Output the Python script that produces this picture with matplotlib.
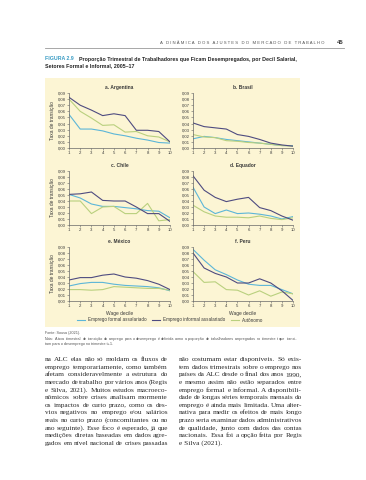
import matplotlib
matplotlib.use("Agg")
import matplotlib.pyplot as plt
from matplotlib.patches import Rectangle
from matplotlib.lines import Line2D

W, H = 366, 480
BEIGE = "#fcf5d4"
C_FORMAL, C_INFORMAL, C_AUTO = "#5cb6d8", "#4e4b80", "#b9d07e"
TXT = "#3a3a3a"

# ---- data: quarterly employment->unemployment transition rate by wage decile ----
deciles = [1, 2, 3, 4, 5, 6, 7, 8, 9, 10]
yticks = [0.00, 0.01, 0.02, 0.03, 0.04, 0.05, 0.06, 0.07, 0.08, 0.09]
titles = ["a. Argentina", "b. Brasil", "c. Chile", "d. Equador", "e. México", "f. Peru"]

arg_formal   = [0.055, 0.031, 0.031, 0.028, 0.023, 0.020, 0.016, 0.013, 0.009, 0.008]
arg_informal = [0.083, 0.070, 0.062, 0.053, 0.056, 0.053, 0.029, 0.029, 0.027, 0.010]
arg_auto     = [0.080, 0.060, 0.049, 0.037, 0.038, 0.026, 0.027, 0.020, 0.018, 0.010]

bra_formal   = [0.015, 0.019, 0.017, 0.014, 0.012, 0.010, 0.008, 0.006, 0.004, 0.004]
bra_informal = [0.041, 0.035, 0.033, 0.031, 0.022, 0.019, 0.014, 0.008, 0.005, 0.003]
bra_auto     = [0.022, 0.018, 0.017, 0.012, 0.011, 0.009, 0.008, 0.006, 0.004, 0.003]

chi_formal   = [0.051, 0.045, 0.035, 0.031, 0.031, 0.029, 0.027, 0.024, 0.023, 0.012]
chi_informal = [0.051, 0.052, 0.055, 0.041, 0.040, 0.040, 0.030, 0.019, 0.019, 0.006]
chi_auto     = [0.040, 0.040, 0.019, 0.030, 0.031, 0.019, 0.019, 0.036, 0.007, 0.009]

ecu_formal   = [0.063, 0.030, 0.019, 0.025, 0.019, 0.020, 0.018, 0.015, 0.010, 0.014]
ecu_informal = [0.082, 0.058, 0.046, 0.039, 0.043, 0.046, 0.029, 0.024, 0.015, 0.008]
ecu_auto     = [0.033, 0.022, 0.015, 0.013, 0.013, 0.012, 0.015, 0.011, 0.009, 0.012]

mex_formal   = [0.025, 0.029, 0.031, 0.031, 0.028, 0.026, 0.025, 0.024, 0.022, 0.017]
mex_informal = [0.035, 0.039, 0.039, 0.043, 0.045, 0.040, 0.038, 0.034, 0.028, 0.019]
mex_auto     = [0.019, 0.019, 0.018, 0.019, 0.024, 0.023, 0.022, 0.021, 0.021, 0.018]

per_formal   = [0.086, 0.068, 0.052, 0.044, 0.035, 0.028, 0.026, 0.026, 0.019, 0.012]
per_informal = [0.080, 0.055, 0.046, 0.040, 0.030, 0.030, 0.037, 0.030, 0.017, 0.001]
per_auto     = [0.049, 0.031, 0.032, 0.019, 0.018, 0.010, 0.017, 0.008, 0.015, 0.012]

panels = [
    (arg_formal, arg_informal, arg_auto),
    (bra_formal, bra_informal, bra_auto),
    (chi_formal, chi_informal, chi_auto),
    (ecu_formal, ecu_informal, ecu_auto),
    (mex_formal, mex_informal, mex_auto),
    (per_formal, per_informal, per_auto),
]
series_labels = ["Emprego formal assalariado", "Emprego informal assalariado", "Autônomo"]

left_lines = [
    "na ALC elas não só moldam os fluxos de",
    "emprego temporariamente, como também",
    "afetam consideravelmente a estrutura do",
    "mercado de trabalho por vários anos (Regis",
    "e Silva, 2021). Muitos estudos macroeco-",
    "nômicos sobre crises analisam mormente",
    "os impactos de curto prazo, como os des-",
    "vios negativos no emprego e/ou salários",
    "reais no curto prazo (concomitantes ou no",
    "ano seguinte). Esse foco é esperado, já que",
    "medições diretas baseadas em dados agre-",
    "gados em nível nacional de crises passadas",
]
right_lines = [
    "não costumam estar disponíveis. Só exis-",
    "tem dados trimestrais sobre o emprego nos",
    "países da ALC desde o final dos anos 1990,",
    "e mesmo assim não estão separados entre",
    "emprego formal e informal. A disponibili-",
    "dade de longas séries temporais mensais do",
    "emprego é ainda mais limitada. Uma alter-",
    "nativa para medir os efeitos de mais longo",
    "prazo seria examinar dados administrativos",
    "de qualidade, junto com dados das contas",
    "nacionais. Essa foi a opção feita por Regis",
    "e Silva (2021).",
]
note_lines = [
    "Nota: A taxa trimestral de transição do emprego para o desemprego é definida como a proporção de trabalhadores empregados no trimestre t que transi-",
    "tam para o desemprego no trimestre t+1.",
]

plt.rcParams["font.family"] = ["Liberation Sans", "DejaVu Sans"]
fig = plt.figure(figsize=(W / 100, H / 100), dpi=100)
fig.patch.set_facecolor("white")


def fx(x):
    return x / W


def fy(y):
    return 1 - y / H


def px_axes(x0, y0, x1, y1):
    return fig.add_axes([fx(x0), fy(y1), (x1 - x0) / W, (y1 - y0) / H])


# beige figure box (behind the axes)
fig.patches.append(Rectangle((fx(45), fy(327)), (300 - 45) / W, (327 - 78) / H,
                             transform=fig.transFigure, facecolor=BEIGE,
                             edgecolor="none", zorder=-5))

# header
fig.text(fx(325), fy(44), "   ".join(" ".join(w) for w in
         "A DINÂMICA DOS AJUSTES DO MERCADO DE TRABALHO".split()),
         ha="right", va="baseline", fontsize=3.1, color="#555555")
fig.text(fx(340), fy(44), "45", ha="center", va="baseline", fontsize=4.3,
         fontweight="bold", color="#333333")
fig.add_artist(Line2D([fx(45), fx(344)], [fy(47.5), fy(47.5)], color="#999999", lw=0.6))

# caption
fig.text(fx(45), fy(60.5), "FIGURA 2.9", ha="left", va="baseline", fontsize=3.8,
         color="#3a9cc4", fontweight="bold")
fig.text(fx(79), fy(60.5), "Proporção Trimestral de Trabalhadores que Ficam Desempregados, por Decil Salarial,",
         ha="left", va="baseline", fontsize=3.8, color="#222222", fontweight="bold")
fig.text(fx(45), fy(67), "Setores Formal e Informal, 2005–17", ha="left", va="baseline",
         fontsize=3.8, color="#222222", fontweight="bold")

cols = [(69, 170), (193, 293)]
rows = [(93, 148), (171, 225), (247, 301)]

for i, (vals, title) in enumerate(zip(panels, titles)):
    r, c = divmod(i, 2)
    x0, x1 = cols[c]
    y0, y1 = rows[r]
    ax = px_axes(x0, y0, x1, y1)
    ax.set_facecolor("none")
    formal, informal, auto = vals
    ax.plot(deciles, formal, color=C_FORMAL, lw=0.8)
    ax.plot(deciles, auto, color=C_AUTO, lw=0.8)
    ax.plot(deciles, informal, color=C_INFORMAL, lw=0.8)
    ax.set_xlim(1, 10)
    ax.set_ylim(0, 0.09)
    ax.set_xticks(deciles)
    ax.set_yticks(yticks)
    ax.set_yticklabels([f"{v:.2f}".replace(".", ",") for v in yticks])
    for s in ("top", "right"):
        ax.spines[s].set_visible(False)
    for s in ("left", "bottom"):
        ax.spines[s].set_linewidth(0.5)
        ax.spines[s].set_color("#666666")
    ax.tick_params(labelsize=3.1, length=1.5, width=0.4, pad=1, colors="#666666",
                   labelcolor=TXT)
    ax.set_title(title, fontsize=3.5, fontweight="bold", color=TXT, pad=3)
    if c == 0:
        ax.set_ylabel("Taxa de transição", fontsize=3.5, color=TXT, labelpad=2)
    if r == 2:
        ax.set_xlabel("Wage decile", fontsize=3.5, color=TXT, labelpad=1.5)

handles = [Line2D([], [], color=C_FORMAL, lw=0.8),
           Line2D([], [], color=C_INFORMAL, lw=0.8),
           Line2D([], [], color=C_AUTO, lw=0.8)]
fig.legend(handles, series_labels, loc="center", bbox_to_anchor=(fx(170), fy(320)),
           ncol=3, frameon=False, fontsize=3.3, handlelength=1.8, handletextpad=0.5,
           columnspacing=1.3, labelcolor=TXT)

renderer = fig.canvas.get_renderer()


def justify(lines, x0, x1, y0, dy, size, family, color, last_ragged=True):
    for i, line in enumerate(lines):
        y = y0 + i * dy
        words = line.split()
        kw = dict(fontsize=size, family=family, color=color, va="baseline", ha="left")
        if (last_ragged and i == len(lines) - 1) or len(words) == 1:
            fig.text(fx(x0), fy(y), line, **kw)
            continue
        ts = [fig.text(0, 0, w, **kw) for w in words]
        widths = [t.get_window_extent(renderer).width for t in ts]
        gap = (x1 - x0 - sum(widths)) / (len(words) - 1)
        x = x0
        for t, w in zip(ts, widths):
            t.set_position((fx(x), fy(y)))
            x += w + gap


# source and note
fig.text(fx(45), fy(334), "Fonte: Sousa (2021).", ha="left", va="baseline",
         fontsize=2.7, color="#555555")
justify(note_lines, 45, 297, 340, 5.2, 2.7, ["Liberation Sans"], "#555555")

# body text
serif = ["Liberation Serif", "DejaVu Serif"]
justify(left_lines, 45, 168, 361, 7.63, 5.2, serif, "#2a2a2a", last_ragged=False)
justify(right_lines, 179, 302, 361, 7.63, 5.2, serif, "#2a2a2a", last_ragged=True)

fig.savefig("out.png", dpi=100, facecolor="white")
